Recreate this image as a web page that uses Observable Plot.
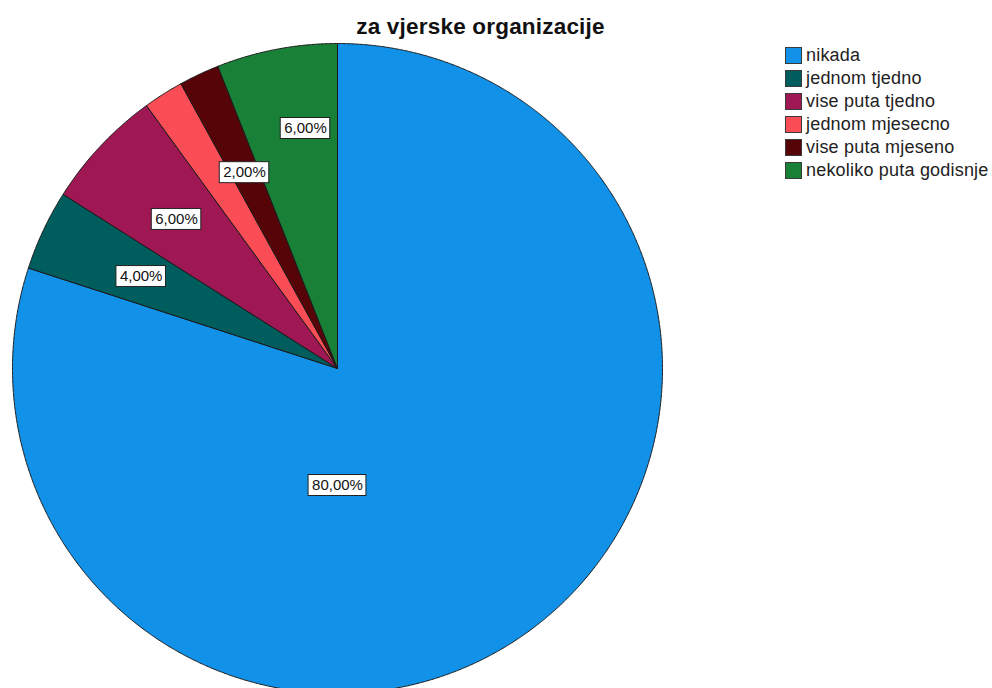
<!DOCTYPE html>
<html><head><meta charset="utf-8">
<script src="https://cdn.jsdelivr.net/npm/d3@7"></script>
<script src="https://cdn.jsdelivr.net/npm/@observablehq/plot@0.6"></script>
<style>
body{margin:0;background:#fff;}
#wrap{position:relative;width:992px;height:688px;overflow:hidden;font-family:"Liberation Sans",Arial,sans-serif;}
#chart{position:absolute;left:0;top:0;}
#title{position:absolute;left:0;width:961px;top:16px;line-height:22px;text-align:center;font-weight:bold;font-size:22.5px;letter-spacing:0.2px;color:#111;}
#legend{position:absolute;left:785px;top:44px;}
.row{display:flex;align-items:center;height:23px;font-size:18px;letter-spacing:0.2px;color:#222;white-space:nowrap;}
.sw{box-sizing:border-box;width:17px;height:17px;border:1.5px solid #3a3a3a;margin-right:4px;}
</style></head><body>
<div id="wrap"><div id="chart"></div><div id="title">za vjerske organizacije</div><div id="legend"></div></div>
<script>
const categories = ["nikada","jednom tjedno","vise puta tjedno","jednom mjesecno","vise puta mjeseno","nekoliko puta godisnje"];
const percentages = [80, 4, 6, 2, 2, 6];
const colors = ["#1192E8","#005D5D","#9F1853","#FA4D56","#570408","#198038"];
const labelShown = [true, true, true, false, true, true];

// layout (pixels / angles in degrees clockwise from top, radius fraction)
const W = 992, H = 688, R = 325, CX = 337, CY = 368;
const labelAngle = [180, 295.1, 312.8, null, 334.6, 352.4];
const labelRadius = [0.36, 0.667, 0.675, null, 0.667, 0.745];

const data = categories.map((c, i) => ({cat: c, value: percentages[i]}));
const arcs = d3.pie().sort(null).value(d => d.value).startAngle(0).endAngle(2 * Math.PI)(data);

const points = [];
arcs.forEach(a => {
  const cat = a.data.cat;
  points.push({cat, x: 0, y: 0});
  const n = Math.max(2, Math.ceil((a.endAngle - a.startAngle) / 0.004));
  for (let k = 0; k <= n; k++) {
    const t = a.startAngle + (a.endAngle - a.startAngle) * k / n;
    points.push({cat, x: Math.sin(t), y: Math.cos(t)});
  }
  points.push({cat, x: 0, y: 0});
});

const ctx = document.createElement("canvas").getContext("2d");
ctx.font = "15px 'Liberation Sans'";
const fmt = v => v.toFixed(2).replace(".", ",") + "%";
const labels = [];
arcs.forEach((a, i) => {
  if (!labelShown[i]) return;
  const ang = labelAngle[i] * Math.PI / 180, r = labelRadius[i];
  const x = r * Math.sin(ang), y = r * Math.cos(ang);
  const text = fmt(a.data.value);
  const hw = (ctx.measureText(text).width / 2 + 3.5) / R, hh = 10.5 / R;
  labels.push({x, y, text, x1: x - hw, x2: x + hw, y1: y - hh, y2: y + hh});
});

const chart = Plot.plot({
  width: W, height: H,
  margin: 0,
  x: {domain: [-CX / R, (W - CX) / R], axis: null},
  y: {domain: [-(H - CY) / R, CY / R], axis: null},
  color: {domain: categories, range: colors},
  marks: [
    Plot.line(points, {x: "x", y: "y", z: "cat", fill: "cat", stroke: "#1a1a1a", strokeWidth: 1, strokeLinejoin: "round", curve: "linear"}),
    Plot.rect(labels, {x1: "x1", x2: "x2", y1: "y1", y2: "y2", fill: "white", stroke: "#222", strokeWidth: 1}),
    Plot.text(labels, {x: "x", y: "y", text: "text", fontSize: 15, fill: "#111", fontFamily: "Liberation Sans, Arial, sans-serif"})
  ]
});
document.getElementById("chart").appendChild(chart);

const legend = document.getElementById("legend");
categories.forEach((c, i) => {
  const row = document.createElement("div");
  row.className = "row";
  const sw = document.createElement("div");
  sw.className = "sw";
  sw.style.background = colors[i];
  const lab = document.createElement("span");
  lab.textContent = c;
  row.appendChild(sw); row.appendChild(lab);
  legend.appendChild(row);
});
</script>
</body></html>
